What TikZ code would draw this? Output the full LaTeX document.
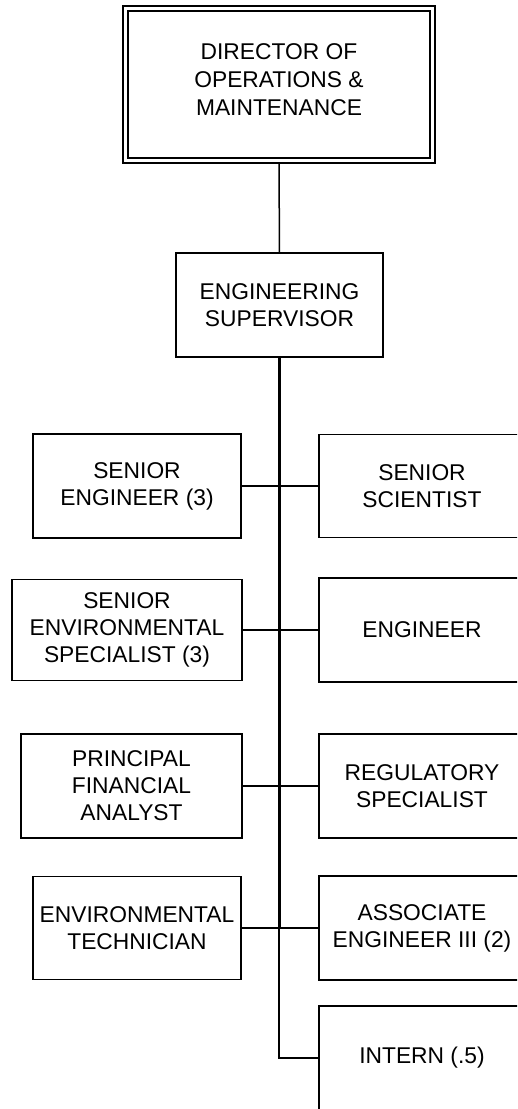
\documentclass[tikz,border=0pt]{standalone}
\usepackage{fontspec}
\setmainfont{Liberation Sans}
\begin{document}
\begin{tikzpicture}[x=1pt,y=1pt,
  box/.style={draw, line width=1.5pt, rectangle, align=center, inner sep=0pt, outer sep=0pt,
    font=\fontsize{22.8}{27}\selectfont},
  topbox/.style={draw, line width=2pt, double, double distance=3pt, rectangle, align=center,
    inner sep=0pt, outer sep=3.5pt, font=\fontsize{22.8}{28}\selectfont},
  conn/.style={line width=1.5pt},
  trunk/.style={line width=3pt}]
\useasboundingbox (0,0) rectangle (517,-1109);
\clip (0,0) rectangle (517,-1109);
\fill[white] (0,0) rectangle (517,-1109);
% boxes
\node[topbox, minimum width=307pt, minimum height=152pt] (dir) at (279,-84.5) {};
\node[font=\fontsize{22.8}{28}\selectfont, align=center, inner sep=0pt] (dirtext) at (279,-80) {DIRECTOR OF\\OPERATIONS \&\\MAINTENANCE};
\node[box, minimum width=207pt, minimum height=104pt] (sup) at (279.5,-305) {ENGINEERING\\SUPERVISOR};
\node[box, minimum width=208pt, minimum height=104pt] (l1) at (137,-486) {SENIOR\\ENGINEER (3)};
\node[box, minimum width=230pt, minimum height=101pt] (l2) at (127,-630) {SENIOR\\ENVIRONMENTAL\\SPECIALIST (3)};
\node[box, minimum width=221pt, minimum height=104pt] (l3) at (131.5,-786) {PRINCIPAL\\FINANCIAL\\ANALYST};
\node[box, minimum width=208pt, minimum height=103pt] (l4) at (137,-928) {ENVIRONMENTAL\\TECHNICIAN};
\node[box, minimum width=206pt, minimum height=103pt] (r1) at (422,-486) {SENIOR\\SCIENTIST};
\node[box, minimum width=206pt, minimum height=104pt] (r2) at (422,-630) {ENGINEER};
\node[box, minimum width=206pt, minimum height=104pt] (r3) at (422,-786) {REGULATORY\\SPECIALIST};
\node[box, minimum width=206pt, minimum height=104pt] (r4) at (422,-928) {ASSOCIATE\\ENGINEER III (2)};
\node[box, minimum width=206pt, minimum height=104pt] (r5) at (422,-1058) {INTERN (.5)};
% connectors
\coordinate (tb) at (279,-928);
\draw[conn] (dir.south) -- (sup.north);
\draw[trunk] ([xshift=-0.5pt]sup.south) -- (tb);
\draw[conn, line join=miter] (tb) |- (r5.west);
\draw[conn] (l1.east) -- (r1.west);
\draw[conn] (l2.east) -- (r2.west);
\draw[conn] (l3.east) -- (r3.west);
\draw[conn] (l4.east) -- (r4.west);
\end{tikzpicture}
\end{document}
